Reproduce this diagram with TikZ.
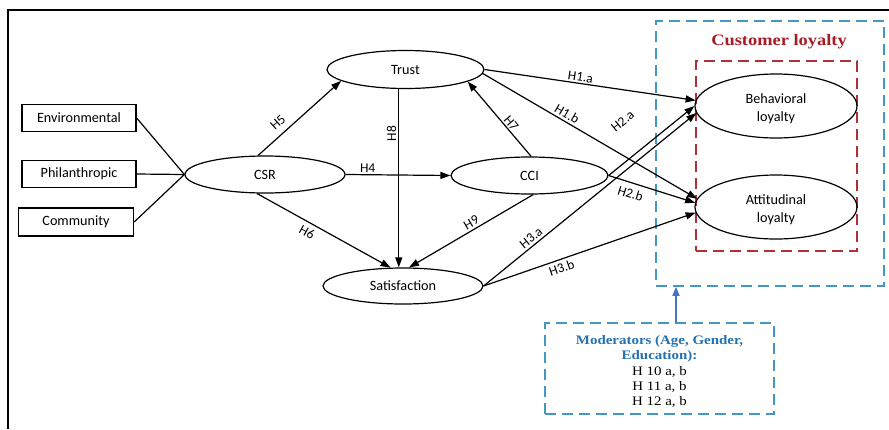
\documentclass[tikz,border=0pt]{standalone}
\usepackage{fontspec}
\setmainfont{Carlito}
\newfontfamily\capserif[FakeStretch=1.15]{Liberation Serif}
\usetikzlibrary{shapes.geometric,arrows.meta,calc}
\definecolor{titlered}{RGB}{165,30,38}
\definecolor{dashred}{RGB}{176,48,56}
\definecolor{dashblue}{RGB}{70,150,195}
\definecolor{modblue}{RGB}{36,113,178}
\definecolor{arrowblue}{RGB}{68,114,196}
\begin{document}
\begin{tikzpicture}[x=1pt,y=-1pt,
  ell/.style={ellipse,draw,line width=1.2pt,inner sep=0pt,font=\fontsize{14.2}{18}\selectfont,align=center},
  fac/.style={rectangle,draw,line width=1.3pt,inner sep=0pt,minimum width=114pt,minimum height=27pt,font=\fontsize{14.2}{17}\selectfont},
  link/.style={line width=1.2pt},
  hyp/.style={line width=1.2pt,-{Triangle[length=10pt,width=7pt]}},
  lab/.style={font=\fontsize{13.5}{16}\selectfont,sloped,inner sep=1pt,outer sep=1pt},
  dbox/.style={rectangle,line width=1.5pt,dash pattern=on 11pt off 6pt,inner sep=0pt},
]
\useasboundingbox (0,0) rectangle (889,429);
% outer frame
\draw[line width=1.6pt,line join=miter] (8,429) -- (8,10) -- (889,10);

% loyalty boxes
\node[dbox,draw=dashblue,minimum width=228pt,minimum height=265pt] (loyal) at (770,153.5) {};
\node[dbox,draw=dashred,minimum width=161pt,minimum height=190pt] (core) at (776.5,156) {};
\node[text=titlered,font=\capserif\bfseries\fontsize{16}{19}\selectfont,inner sep=0pt] (title) at (779,42) {Customer loyalty};

% factors
\node[fac] (env) at (79,118) {Environmental};
\node[fac] (phil) at (79,174) {Philanthropic};
\node[fac,minimum width=115pt,minimum height=28pt] (comm) at (76,222) {Community};

% constructs
\node[ell,minimum width=160pt,minimum height=37pt] (csr) at (265,174.5) {CSR};
\node[ell,minimum width=157pt,minimum height=38pt] (trust) at (405.5,69.5) {Trust};
\node[ell,minimum width=157pt,minimum height=37pt] (cci) at (529.5,175.5) {CCI};
\node[ell,minimum width=160pt,minimum height=36pt] (sat) at (403,286) {Satisfaction};
\node[ell,minimum width=162pt,minimum height=64pt] (beh) at (776,106) {\rule{0pt}{15pt}Behavioral\\loyalty};
\node[ell,minimum width=162pt,minimum height=64pt] (att) at (776,207) {\rule{0pt}{15pt}Attitudinal\\loyalty};

% moderators
\node[dbox,draw=dashblue,minimum width=229pt,minimum height=91pt] (mod) at (659.5,368.5) {};
\node[align=center,inner sep=0pt,font=\capserif\fontsize{13}{15.3}\selectfont] (modtext) at ($(mod.center)+(0,3)$)
  {\textcolor{modblue}{\bfseries Moderators (Age, Gender,}\\
   \textcolor{modblue}{\bfseries Education):}\\
   H 10 a, b\\ H 11 a, b\\ H 12 a, b};
\coordinate (mtop) at ($(mod.north)+(16.5,0)$);
\draw[line width=1.5pt,draw=arrowblue,-{Triangle[length=9pt,width=7pt]},color=arrowblue] (mtop) -- (mtop |- loyal.south);

% factor links
\draw[link] (env.east) -- (csr.west);
\draw[link] (phil.east) -- (csr.west);
\draw[link] (comm.east) -- (csr.west);

% hypotheses
\draw[hyp] (csr.110) -- node[lab,above,pos=.33,outer sep=6pt]{H5} (trust.190);
\draw[hyp] (csr.east) -- node[lab,above,pos=.21]{H4} (cci.west);
\draw[hyp] (csr.247.7) -- node[lab,below,pos=.41,outer sep=4pt]{H6} (sat.124);
\draw[hyp] (trust.251) -- node[font=\fontsize{13.5}{16}\selectfont,rotate=90,anchor=south,pos=.25,inner sep=2pt]{H8} (trust.251 |- sat.north);
\draw[hyp] (cci.85) -- node[lab,above,pos=.39]{H7} (trust.349);
\draw[hyp] (cci.281) -- node[lab,above,pos=.47,outer sep=2pt]{H9} (sat.72);
\draw[hyp] (trust.east) -- node[lab,above,pos=.45]{H1.a} (beh.176);
\draw[hyp] (trust.357) -- node[lab,above,pos=.375,outer sep=2pt]{H1.b} (att.174);
\draw[hyp] (cci.east) -- node[lab,above,pos=.41,outer sep=28pt]{H2.a} (beh.180);
\draw[hyp] (cci.east) -- node[lab,below,pos=.29,outer sep=5pt]{H2.b} (att.177);
\draw[hyp] (sat.east) -- node[lab,above,pos=.245,outer sep=2pt]{H3.a} (beh.185);
\draw[hyp] (sat.east) -- node[lab,below,pos=.355,outer sep=2.5pt]{H3.b} (att.184);
\end{tikzpicture}
\end{document}
